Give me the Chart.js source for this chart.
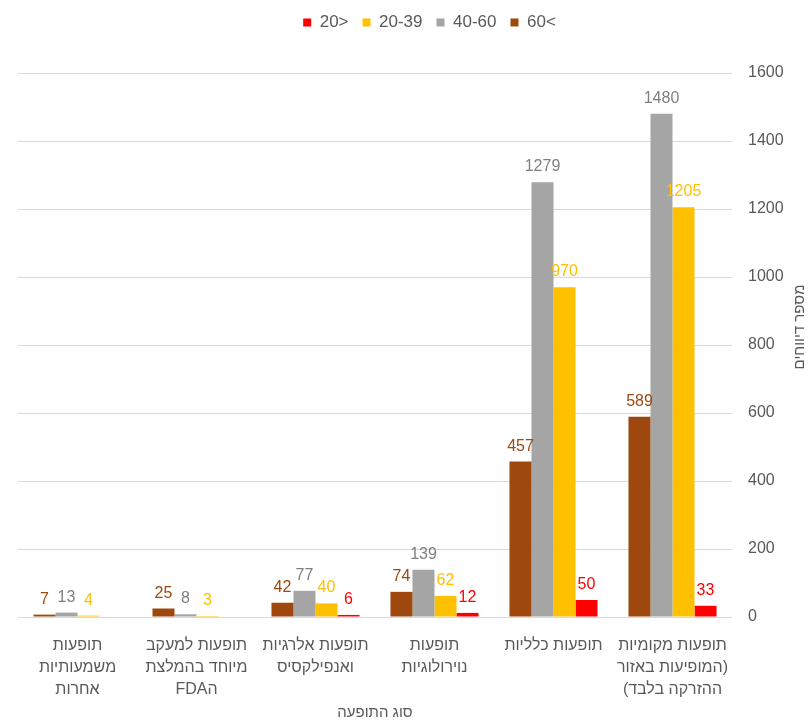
<!DOCTYPE html>
<html>
<head>
<meta charset="utf-8">
<script src="https://cdn.jsdelivr.net/npm/chart.js@4"></script>
<style>
  html, body { margin: 0; padding: 0; background: #fff; }
  #wrap { width: 809px; height: 723px; }
  canvas { direction: rtl; }
</style>
</head>
<body>
<div id="wrap"><canvas id="reportsChart"></canvas></div>
<script>
    // Categories (right to left on the chart)
    const categories = [
      ['תופעות מקומיות', '(המופיעות באזור', 'ההזרקה בלבד)'],
      'תופעות כלליות',
      ['תופעות', 'נוירולוגיות'],
      ['תופעות אלרגיות', 'ואנפילקסיס'],
      ['תופעות למעקב', 'מיוחד בהמלצת', 'הFDA'],
      ['תופעות', 'משמעותיות', 'אחרות']
    ];

    // Reports per age group
    const over60 = [589, 457, 74, 42, 25, 7];
    const age40to60 = [1480, 1279, 139, 77, 8, 13];
    const age20to39 = [1205, 970, 62, 40, 3, 4];
    const under20 = [33, 50, 12, 6, null, null];

    const yTicks = [0, 200, 400, 600, 800, 1000, 1200, 1400, 1600];

    const fontFamily = '"Liberation Sans", "DejaVu Sans", Arial, sans-serif';
    const textGrey = '#595959';

    // Value labels above the bars
    const valueLabels = {
      id: 'valueLabels',
      afterDatasetsDraw(chart) {
        const ctx = chart.ctx;
        ctx.save();
        ctx.font = '16px ' + fontFamily;
        ctx.textAlign = 'center';
        ctx.textBaseline = 'alphabetic';
        chart.data.datasets.forEach((ds, i) => {
          const meta = chart.getDatasetMeta(i);
          meta.data.forEach((bar, j) => {
            const v = ds.data[j];
            if (v === null || v === undefined) return;
            ctx.fillStyle = ds.labelColor;
            ctx.fillText(String(v), bar.x, bar.y - 11);
          });
        });
        ctx.restore();
      }
    };

    // Vertical axis title on the right side
    const yTitle = {
      id: 'yTitle',
      afterDraw(chart) {
        const ctx = chart.ctx;
        ctx.save();
        ctx.translate(800, 327);
        ctx.rotate(-Math.PI / 2);
        ctx.font = '15px ' + fontFamily;
        ctx.fillStyle = textGrey;
        ctx.textAlign = 'center';
        ctx.textBaseline = 'middle';
        ctx.fillText('מספר דיווחים', 0, 0);
        ctx.restore();
      }
    };

    // Fixed legend height so the plot starts where the reference does,
    // and nudge the legend a bit to the right like the original
    const legendBox = {
      id: 'legendBox',
      beforeInit(chart) {
        const fit = chart.legend.fit;
        chart.legend.fit = function() {
          fit.bind(chart.legend)();
          this.height = 73;
        };
      },
      afterLayout(chart) {
        chart.legend.left += 16;
        chart.legend.right += 16;
      }
    };

    new Chart(document.getElementById('reportsChart'), {
      type: 'bar',
      data: {
        labels: categories,
        datasets: [
          { label: '>60', data: over60, backgroundColor: '#9E480E', labelColor: '#9E480E' },
          { label: '40-60', data: age40to60, backgroundColor: '#A5A5A5', labelColor: '#7F7F7F' },
          { label: '20-39', data: age20to39, backgroundColor: '#FFC000', labelColor: '#FFC000' },
          { label: '<20', data: under20, backgroundColor: '#FF0000', labelColor: '#FF0000' }
        ]
      },
      options: {
        responsive: true,
        maintainAspectRatio: false,
        animation: false,
        layout: { padding: { left: 18, right: 0, top: 0, bottom: 0 } },
        datasets: {
          bar: { categoryPercentage: 0.74, barPercentage: 1 }
        },
        plugins: {
          legend: {
            position: 'top',
            reverse: true,
            labels: {
              boxWidth: 8,
              boxHeight: 8,
              padding: 14,
              color: textGrey,
              font: { family: fontFamily, size: 17 }
            }
          },
          tooltip: { enabled: false }
        },
        scales: {
          x: {
            reverse: true,
            grid: { display: false, drawTicks: false },
            border: { display: false },
            ticks: {
              color: textGrey,
              padding: 17,
              maxRotation: 0,
              autoSkip: false,
              font: { family: fontFamily, size: 16, lineHeight: 1.4 }
            },
            title: {
              display: true,
              text: 'סוג התופעה',
              color: textGrey,
              padding: { top: 0, bottom: 1 },
              font: { family: fontFamily, size: 15 }
            },
            afterFit(scale) { scale.height = 106; }
          },
          y: {
            position: 'right',
            min: 0,
            max: 1600,
            afterBuildTicks(scale) {
              scale.ticks = yTicks.map(v => ({ value: v }));
            },
            grid: { color: '#D9D9D9', drawTicks: false },
            border: { display: false },
            ticks: {
              color: textGrey,
              padding: 16,
              font: { family: fontFamily, size: 16 },
              callback: v => String(v)
            },
            afterFit(scale) { scale.width = 77; }
          }
        }
      },
      plugins: [valueLabels, yTitle, legendBox]
    });
</script>
</body>
</html>
